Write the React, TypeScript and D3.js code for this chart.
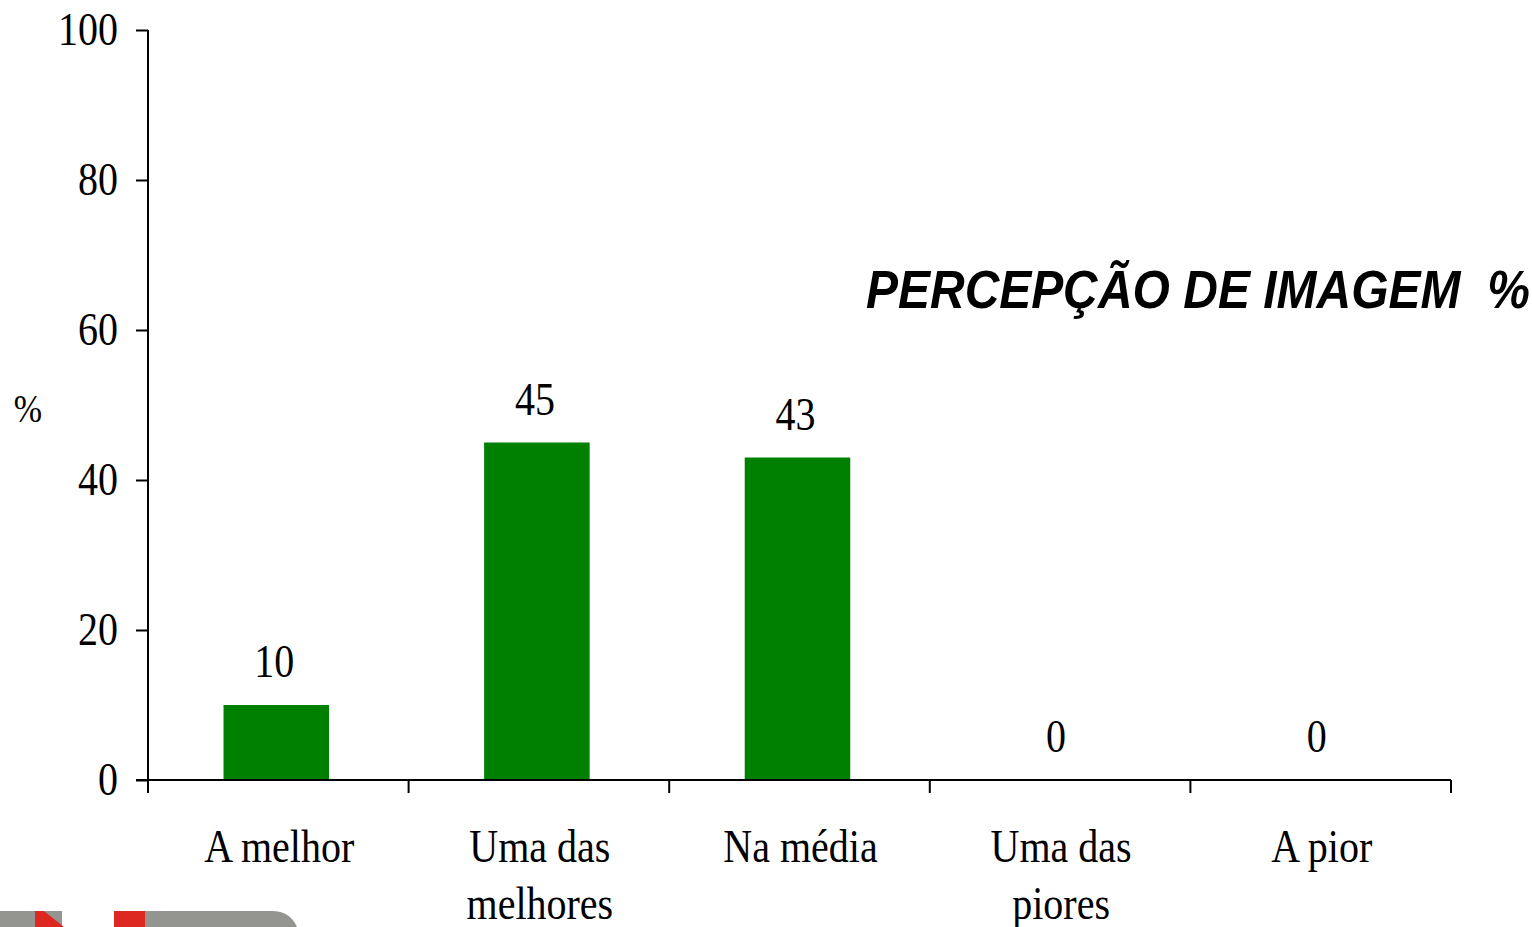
import React, { useEffect, useRef } from 'react'
import * as d3 from 'd3'

const categories = [['A melhor'], ['Uma das', 'melhores'], ['Na média'], ['Uma das', 'piores'], ['A pior']]
const values = [10, 45, 43, 0, 0]
const yTicks = [0, 20, 40, 60, 80, 100]

export default function App() {
  const ref = useRef<SVGSVGElement | null>(null)

  useEffect(() => {
    const svg = d3.select(ref.current!)
    svg.selectAll('*').remove()
    const width = 1532
    const height = 927
    const margin = { left: 148, right: 81, top: 30, bottom: 147 }
    const serif = '"Liberation Serif", "Times New Roman", serif'
    const stretch = 1.15 // text in the source is a bit taller than wide

    const x = d3.scaleBand<number>()
      .domain(categories.map((_, i) => i))
      .range([margin.left, width - margin.right])
      .paddingInner(0.595)
      .paddingOuter(0.2975)
      .align(0.487)
    const step = (width - margin.right - margin.left) / categories.length
    const y = d3.scaleLinear().domain([0, 100]).range([height - margin.bottom, margin.top])

    const label = (g: any, px: number, py: number, size: number) =>
      g.append('text')
        .attr('transform', `translate(${px},${py}) scale(1,${stretch})`)
        .attr('font-family', serif)
        .attr('font-size', size)
        .attr('text-anchor', 'middle')

    // bars
    svg.append('g').selectAll('rect').data(values).enter().append('rect')
      .attr('x', (_, i) => x(i)!)
      .attr('y', d => y(d))
      .attr('width', x.bandwidth())
      .attr('height', d => y(0) - y(d))
      .attr('fill', '#008000')

    // value labels
    const vl = svg.append('g')
    values.forEach((v, i) => {
      label(vl, x(i)! + x.bandwidth() / 2 - 2, y(v) - 28, 40).text(String(v))
    })

    // y axis
    const ya = svg.append('g').attr('transform', `translate(${margin.left},0)`)
      .call(d3.axisLeft(y).tickValues(yTicks).tickSize(12).tickPadding(18))
    ya.select('.domain').attr('stroke', '#000').attr('stroke-width', 2).attr('d', `M0,${y(0)}V${y(100)}`)
    ya.selectAll('.tick line').attr('stroke', '#000').attr('stroke-width', 2)
    ya.selectAll('.tick text').attr('font-family', serif).attr('font-size', 40).attr('fill', '#000')
      .attr('transform', `scale(1,${stretch})`)

    // x axis
    const xa = svg.append('g').attr('transform', `translate(0,${y(0)})`)
    xa.append('line').attr('x1', margin.left - 12).attr('x2', width - margin.right)
      .attr('stroke', '#000').attr('stroke-width', 2)
    d3.range(categories.length + 1).forEach(i => {
      xa.append('line').attr('x1', margin.left + i * step).attr('x2', margin.left + i * step)
        .attr('y1', 0).attr('y2', 13).attr('stroke', '#000').attr('stroke-width', 2)
    })
    categories.forEach((lines, i) => {
      lines.forEach((l, j) => {
        label(xa, x(i)! + x.bandwidth() / 2 + 3, 82 + j * 57, 40).text(l)
      })
    })

    // axis title
    label(svg, 28, 422, 34).text('%')

    // chart title
    svg.append('text')
      .attr('transform', `translate(866,308) scale(1,1.1)`)
      .attr('font-family', '"Liberation Sans", Arial, sans-serif')
      .attr('font-size', 48).attr('font-weight', 700).attr('font-style', 'italic')
      .style('white-space', 'pre')
      .text('PERCEPÇÃO DE IMAGEM  %')

    // logo strip at bottom
    const logo = svg.append('g')
    logo.append('path').attr('d', 'M0,911H272Q290,911 297,927H0Z').attr('fill', '#949490')
    logo.append('rect').attr('x', 62).attr('y', 911).attr('width', 52).attr('height', 16).attr('fill', '#fff')
    logo.append('path').attr('d', 'M35,911H44L64,927H35Z').attr('fill', '#dc2820')
    logo.append('rect').attr('x', 114).attr('y', 911).attr('width', 31).attr('height', 16).attr('fill', '#dc2820')
  }, [])

  return <svg ref={ref} width={1532} height={927} style={{ position: 'absolute', left: 0, top: 0, background: '#fff' }} />
}
